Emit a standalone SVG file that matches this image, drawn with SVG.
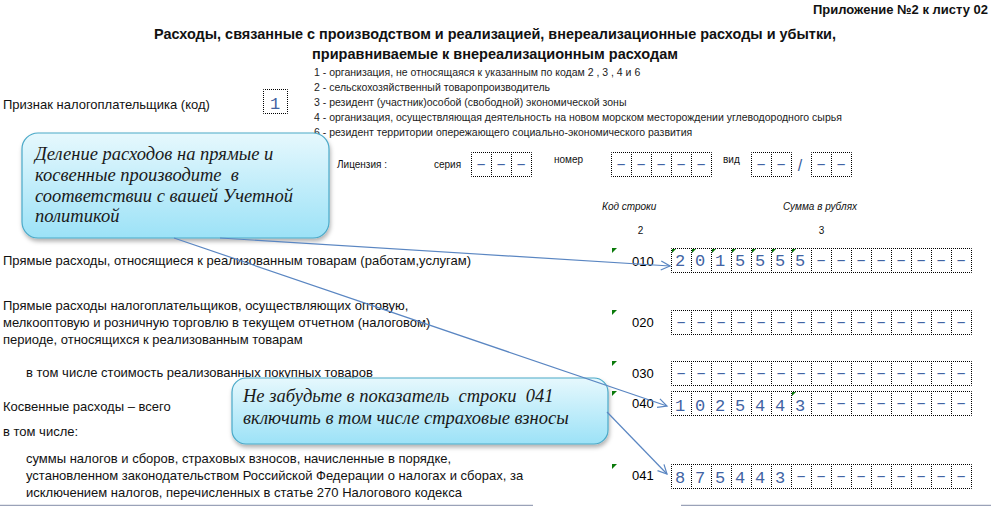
<svg xmlns="http://www.w3.org/2000/svg" width="991" height="506" viewBox="0 0 991 506">
<style>
.t{font-family:"Liberation Sans",Arial,sans-serif;fill:#111}
.lbl{font-size:13px}
.leg{font-size:10.5px;fill:#222}
.sm{font-size:10px}
.it{font-style:italic}
.ttl{font-size:14.5px;font-weight:bold}
.code{font-size:13px;fill:#000}
.dg{font-family:"Liberation Mono","Courier New",monospace;font-size:17px;fill:#4163a3;text-anchor:middle}
.cell{fill:none;stroke:#000;stroke-width:1;stroke-dasharray:1 1;stroke-dashoffset:0.5}
.gm{fill:#0a7a0a}
.call{font-family:"Liberation Serif","Times New Roman",serif;font-style:italic;fill:#1a1a1a;white-space:pre;font-size:18.5px}
.cbox{fill:url(#cg);stroke:#4aa9c8;stroke-width:1.2;filter:url(#sh)}
.conn{fill:none;stroke:#5a86c2;stroke-width:1.2}
</style>
<defs>
<linearGradient id="cg" x1="0" y1="0" x2="0" y2="1">
<stop offset="0" stop-color="#e6f8fd"/>
<stop offset="1" stop-color="#9ce2f7"/>
</linearGradient>
<filter id="sh" x="-10%" y="-10%" width="125%" height="135%">
<feDropShadow dx="1" dy="3" stdDeviation="2" flood-color="#000" flood-opacity="0.3"/>
</filter>
<marker id="ar" markerWidth="12" markerHeight="12" refX="10" refY="6" orient="auto" markerUnits="userSpaceOnUse">
<path d="M1,1.5 L10,6 L1,10.5" fill="none" stroke="#5a86c2" stroke-width="1.2"/>
</marker>
</defs>
<rect width="991" height="506" fill="#fff"/>

<g id="header">
<text class="t" x="988" y="14" text-anchor="end" style="font-size:13px;font-weight:bold">Приложение №2 к листу 02</text>
<text class="t ttl" x="154" y="39" textLength="682" lengthAdjust="spacingAndGlyphs">Расходы, связанные с производством и реализацией, внереализационные расходы и убытки,</text>
<text class="t ttl" x="312" y="59" textLength="366" lengthAdjust="spacingAndGlyphs">приравниваемые к внереализационным расходам</text>
</g>

<g id="legend">
<text class="t leg" x="314" y="76">1 - организация, не относящаяся к указанным по кодам 2 , 3 , 4 и 6</text>
<text class="t leg" x="314" y="91">2 - сельскохозяйственный товаропроизводитель</text>
<text class="t leg" x="314" y="106">3 - резидент (участник)особой (свободной) экономической зоны</text>
<text class="t leg" x="314" y="121">4 - организация, осуществляющая деятельность на новом морском месторождении углеводородного сырья</text>
<text class="t leg" x="314" y="136">6 - резидент территории опережающего социально-экономического развития</text>
</g>

<g id="priznak">
<text class="t lbl" x="3" y="109">Признак налогоплательщика (код)</text>
<rect class="cell" x="263.5" y="89.5" width="24" height="24"/>
<text class="dg" x="275" y="109">1</text>
</g>

<g id="license">
<text class="t sm" x="337" y="168">Лицензия :</text>
<text class="t sm" x="434" y="168">серия</text>
<rect class="cell" x="471.5" y="152.5" width="60" height="24"/>
<path class="cell" d="M491.5,152.5V176.5M511.5,152.5V176.5"/>
<text class="dg" x="481" y="169">–</text><text class="dg" x="501" y="169">–</text><text class="dg" x="521" y="169">–</text>
<text class="t sm" x="554" y="163">номер</text>
<rect class="cell" x="611.5" y="152.5" width="100" height="24"/>
<path class="cell" d="M631.5,152.5V176.5M651.5,152.5V176.5M671.5,152.5V176.5M691.5,152.5V176.5"/>
<text class="dg" x="621" y="169">–</text><text class="dg" x="641" y="169">–</text><text class="dg" x="661" y="169">–</text><text class="dg" x="681" y="169">–</text><text class="dg" x="701" y="169">–</text>
<text class="t sm" x="723" y="163">вид</text>
<rect class="cell" x="751.5" y="152.5" width="40" height="24"/>
<path class="cell" d="M771.5,152.5V176.5"/>
<text class="dg" x="761" y="169">–</text><text class="dg" x="781" y="169">–</text>
<text class="t" x="800" y="171" text-anchor="middle" style="font-size:16px;fill:#3a5d9c">/</text>
<rect class="cell" x="811.5" y="152.5" width="40" height="24"/>
<path class="cell" d="M831.5,152.5V176.5"/>
<text class="dg" x="821" y="169">–</text><text class="dg" x="841" y="169">–</text>
</g>

<g id="colheads">
<text class="t sm it" x="602" y="210">Код строки</text>
<text class="t sm it" x="783" y="210">Сумма в рублях</text>
<text class="t sm" x="640.5" y="234" text-anchor="middle">2</text>
<text class="t sm" x="821.5" y="234" text-anchor="middle">3</text>
</g>

<g id="labels">
<text class="t lbl" x="3" y="265">Прямые расходы, относящиеся к реализованным товарам (работам,услугам)</text>
<text class="t lbl" x="3" y="310">Прямые расходы налогоплательщиков, осуществляющих оптовую,</text>
<text class="t lbl" x="3" y="327">мелкооптовую и розничную торговлю в текущем отчетном (налоговом)</text>
<text class="t lbl" x="3" y="344">периоде, относящихся к реализованным товарам</text>
<text class="t lbl" x="26" y="377">в том числе стоимость реализованных покупных товаров</text>
<text class="t lbl" x="3" y="411">Косвенные расходы – всего</text>
<text class="t lbl" x="3" y="436">в том числе:</text>
<text class="t lbl" x="26" y="463">суммы налогов и сборов, страховых взносов, начисленные в порядке,</text>
<text class="t lbl" x="26" y="480">установленном законодательством Российской Федерации о налогах и сборах, за</text>
<text class="t lbl" x="26" y="497">исключением налогов, перечисленных в статье 270 Налогового кодекса</text>
</g>

<g id="row010">
<polygon class="gm" points="612,248 617,248 612,253"/>
<text class="t code" x="632" y="266">010</text>
<rect class="cell" x="671.5" y="248.5" width="300" height="24"/>
<path class="cell" d="M691.5,248.5V272.5M711.5,248.5V272.5M731.5,248.5V272.5M751.5,248.5V272.5M771.5,248.5V272.5M791.5,248.5V272.5M811.5,248.5V272.5M831.5,248.5V272.5M851.5,248.5V272.5M871.5,248.5V272.5M891.5,248.5V272.5M911.5,248.5V272.5M931.5,248.5V272.5M951.5,248.5V272.5"/>
<text class="dg" x="680" y="266">2</text><text class="dg" x="700" y="266">0</text><text class="dg" x="720" y="266">1</text><text class="dg" x="740" y="266">5</text><text class="dg" x="760" y="266">5</text><text class="dg" x="780" y="266">5</text><text class="dg" x="800" y="266">5</text>
<text class="dg" x="821" y="265">–</text><text class="dg" x="841" y="265">–</text><text class="dg" x="861" y="265">–</text><text class="dg" x="881" y="265">–</text><text class="dg" x="901" y="265">–</text><text class="dg" x="921" y="265">–</text><text class="dg" x="941" y="265">–</text><text class="dg" x="961" y="265">–</text>
<polygon class="gm" points="672,249 676,249 672,253"/><polygon class="gm" points="692,249 696,249 692,253"/><polygon class="gm" points="712,249 716,249 712,253"/><polygon class="gm" points="732,249 736,249 732,253"/><polygon class="gm" points="752,249 756,249 752,253"/><polygon class="gm" points="772,249 776,249 772,253"/><polygon class="gm" points="792,249 796,249 792,253"/>
</g>

<g id="row020">
<polygon class="gm" points="612,310 617,310 612,315"/>
<text class="t code" x="632" y="327">020</text>
<rect class="cell" x="671.5" y="310.5" width="300" height="24"/>
<path class="cell" d="M691.5,310.5V334.5M711.5,310.5V334.5M731.5,310.5V334.5M751.5,310.5V334.5M771.5,310.5V334.5M791.5,310.5V334.5M811.5,310.5V334.5M831.5,310.5V334.5M851.5,310.5V334.5M871.5,310.5V334.5M891.5,310.5V334.5M911.5,310.5V334.5M931.5,310.5V334.5M951.5,310.5V334.5"/>
<text class="dg" x="681" y="327">–</text><text class="dg" x="701" y="327">–</text><text class="dg" x="721" y="327">–</text><text class="dg" x="741" y="327">–</text><text class="dg" x="761" y="327">–</text><text class="dg" x="781" y="327">–</text><text class="dg" x="801" y="327">–</text><text class="dg" x="821" y="327">–</text><text class="dg" x="841" y="327">–</text><text class="dg" x="861" y="327">–</text><text class="dg" x="881" y="327">–</text><text class="dg" x="901" y="327">–</text><text class="dg" x="921" y="327">–</text><text class="dg" x="941" y="327">–</text><text class="dg" x="961" y="327">–</text>
</g>

<g id="row030">
<polygon class="gm" points="612,361 617,361 612,366"/>
<text class="t code" x="632" y="378">030</text>
<rect class="cell" x="671.5" y="361.5" width="300" height="24"/>
<path class="cell" d="M691.5,361.5V385.5M711.5,361.5V385.5M731.5,361.5V385.5M751.5,361.5V385.5M771.5,361.5V385.5M791.5,361.5V385.5M811.5,361.5V385.5M831.5,361.5V385.5M851.5,361.5V385.5M871.5,361.5V385.5M891.5,361.5V385.5M911.5,361.5V385.5M931.5,361.5V385.5M951.5,361.5V385.5"/>
<text class="dg" x="681" y="378">–</text><text class="dg" x="701" y="378">–</text><text class="dg" x="721" y="378">–</text><text class="dg" x="741" y="378">–</text><text class="dg" x="761" y="378">–</text><text class="dg" x="781" y="378">–</text><text class="dg" x="801" y="378">–</text><text class="dg" x="821" y="378">–</text><text class="dg" x="841" y="378">–</text><text class="dg" x="861" y="378">–</text><text class="dg" x="881" y="378">–</text><text class="dg" x="901" y="378">–</text><text class="dg" x="921" y="378">–</text><text class="dg" x="941" y="378">–</text><text class="dg" x="961" y="378">–</text>
</g>

<g id="row040">
<polygon class="gm" points="612,391 617,391 612,396"/>
<text class="t code" x="632" y="408">040</text>
<rect class="cell" x="671.5" y="391.5" width="300" height="24"/>
<path class="cell" d="M691.5,391.5V415.5M711.5,391.5V415.5M731.5,391.5V415.5M751.5,391.5V415.5M771.5,391.5V415.5M791.5,391.5V415.5M811.5,391.5V415.5M831.5,391.5V415.5M851.5,391.5V415.5M871.5,391.5V415.5M891.5,391.5V415.5M911.5,391.5V415.5M931.5,391.5V415.5M951.5,391.5V415.5"/>
<text class="dg" x="680" y="411">1</text><text class="dg" x="700" y="411">0</text><text class="dg" x="720" y="411">2</text><text class="dg" x="740" y="411">5</text><text class="dg" x="760" y="411">4</text><text class="dg" x="780" y="411">4</text><text class="dg" x="800" y="411">3</text>
<text class="dg" x="821" y="408">–</text><text class="dg" x="841" y="408">–</text><text class="dg" x="861" y="408">–</text><text class="dg" x="881" y="408">–</text><text class="dg" x="901" y="408">–</text><text class="dg" x="921" y="408">–</text><text class="dg" x="941" y="408">–</text><text class="dg" x="961" y="408">–</text>
<polygon class="gm" points="792,392 796,392 792,396"/>
</g>

<g id="row041">
<polygon class="gm" points="612,464 617,464 612,469"/>
<text class="t code" x="632" y="480">041</text>
<rect class="cell" x="671.5" y="464.5" width="300" height="24"/>
<path class="cell" d="M691.5,464.5V488.5M711.5,464.5V488.5M731.5,464.5V488.5M751.5,464.5V488.5M771.5,464.5V488.5M791.5,464.5V488.5M811.5,464.5V488.5M831.5,464.5V488.5M851.5,464.5V488.5M871.5,464.5V488.5M891.5,464.5V488.5M911.5,464.5V488.5M931.5,464.5V488.5M951.5,464.5V488.5"/>
<text class="dg" x="680" y="483">8</text><text class="dg" x="700" y="483">7</text><text class="dg" x="720" y="483">5</text><text class="dg" x="740" y="483">4</text><text class="dg" x="760" y="483">4</text><text class="dg" x="780" y="483">3</text>
<text class="dg" x="801" y="481">–</text><text class="dg" x="821" y="481">–</text><text class="dg" x="841" y="481">–</text><text class="dg" x="861" y="481">–</text><text class="dg" x="881" y="481">–</text><text class="dg" x="901" y="481">–</text><text class="dg" x="921" y="481">–</text><text class="dg" x="941" y="481">–</text><text class="dg" x="961" y="481">–</text>
</g>

<g id="bottomline">
<path d="M0,505.5H533M681,505.5H991" stroke="#9aa2b8" stroke-width="1.5" fill="none"/>
</g>

<g id="callout1">
<rect class="cbox" x="22" y="133" width="307" height="105" rx="16"/>
<text class="call" x="35" y="160">Деление расходов на прямые и</text>
<text class="call" x="35" y="181">косвенные производите  в</text>
<text class="call" x="35" y="202">соответствии с вашей Учетной</text>
<text class="call" x="35" y="222">политикой</text>
</g>

<g id="callout2">
<rect class="cbox" x="232" y="378" width="376" height="66" rx="14"/>
<text class="call" x="243" y="402">Не забудьте в показатель  строки  041</text>
<text class="call" x="243" y="424">включить в том числе страховые взносы</text>
</g>

<g id="connectors">
<path class="conn" d="M220,238 L670,266" marker-end="url(#ar)"/>
<path class="conn" d="M174,238 L667,406" marker-end="url(#ar)"/>
<path class="conn" d="M607,412 L667,474" marker-end="url(#ar)"/>
</g>
</svg>
